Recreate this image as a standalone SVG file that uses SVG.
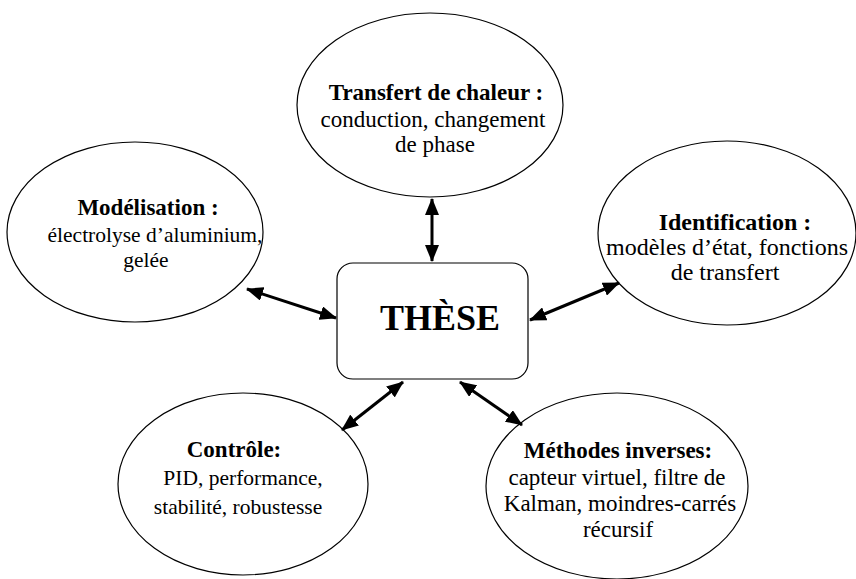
<svg xmlns="http://www.w3.org/2000/svg" width="856" height="579" viewBox="0 0 856 579">
<style>
  .node ellipse, .node rect { fill: #ffffff; stroke: #000000; stroke-width: 1.2; }
  text { font-family: "Liberation Serif", Tinos, "Times New Roman", Times, "Nimbus Roman", "DejaVu Serif", serif; font-weight: normal; fill: #000; text-anchor: middle; font-size: 23px; }
  text.b { font-weight: bold; }
  text.title { font-size: 36px; font-weight: bold; }
  .conn line { stroke: #000; stroke-width: 3; marker-start: url(#ah); marker-end: url(#ah); }
</style>
<defs>
  <marker id="ah" markerUnits="userSpaceOnUse" markerWidth="17" markerHeight="14" refX="16" refY="7" orient="auto-start-reverse">
    <path d="M0,0 L17,7 L0,14 z" fill="#000"/>
  </marker>
</defs>
<rect width="856" height="579" fill="#ffffff"/>

<g id="n-chaleur" class="node">
  <ellipse cx="430" cy="105" rx="133" ry="92"/>
  <text x="436" y="100" class="b">Transfert de chaleur :</text>
  <text x="433" y="127">conduction, changement</text>
  <text x="435" y="152">de phase</text>
</g>

<g id="n-modelisation" class="node">
  <ellipse cx="135" cy="232" rx="128" ry="90"/>
  <text x="148" y="215" class="b">Modélisation :</text>
  <text x="155" y="242" style="font-size:21.5px">électrolyse d’aluminium,</text>
  <text x="146" y="267" style="font-size:21.5px">gelée</text>
</g>

<g id="n-identification" class="node">
  <ellipse cx="727" cy="233" rx="129" ry="92"/>
  <text x="735" y="230" class="b" style="font-size:24px">Identification :</text>
  <text x="727" y="255" style="font-size:24px">modèles d’état, fonctions</text>
  <text x="725" y="280" style="font-size:24px">de transfert</text>
</g>

<g id="n-these" class="node">
  <rect x="337" y="263" width="191" height="116" rx="16" ry="16"/>
  <text x="440" y="330" class="title">THÈSE</text>
</g>

<g id="n-controle" class="node">
  <ellipse cx="243" cy="484" rx="125" ry="91"/>
  <text x="234" y="457" class="b">Contrôle:</text>
  <text x="243" y="485" style="font-size:21.5px">PID, performance,</text>
  <text x="238" y="514" style="font-size:21.5px">stabilité, robustesse</text>
</g>

<g id="n-inverses" class="node">
  <ellipse cx="617" cy="486" rx="131" ry="93"/>
  <text x="618" y="458" class="b">Méthodes inverses:</text>
  <text x="617" y="485">capteur virtuel, filtre de</text>
  <text x="620" y="511">Kalman, moindres-carrés</text>
  <text x="618" y="537">récursif</text>
</g>

<g id="connectors" class="conn">
  <line x1="432" y1="199" x2="432" y2="261"/>
  <line x1="247" y1="289" x2="336" y2="318"/>
  <line x1="530" y1="320" x2="619" y2="283"/>
  <line x1="403" y1="382" x2="342" y2="430"/>
  <line x1="460" y1="382" x2="522" y2="425"/>
</g>
</svg>
